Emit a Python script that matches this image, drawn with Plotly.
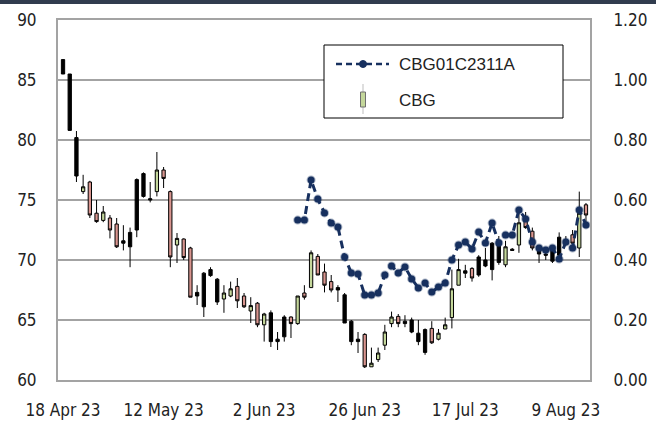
import plotly.graph_objects as go

dates = [
    "2023-04-18","2023-04-19","2023-04-20","2023-04-21","2023-04-24","2023-04-25","2023-04-26","2023-04-27","2023-04-28",
    "2023-05-02","2023-05-03","2023-05-08","2023-05-09","2023-05-10","2023-05-11","2023-05-12",
    "2023-05-15","2023-05-16","2023-05-17","2023-05-18","2023-05-19","2023-05-22","2023-05-23","2023-05-24","2023-05-25","2023-05-26",
    "2023-05-29","2023-05-30","2023-05-31","2023-06-01","2023-06-02","2023-06-06","2023-06-07","2023-06-08","2023-06-09",
    "2023-06-12","2023-06-13","2023-06-14","2023-06-15","2023-06-16","2023-06-19","2023-06-20","2023-06-21","2023-06-22","2023-06-23",
    "2023-06-26","2023-06-27","2023-06-28","2023-06-29","2023-06-30","2023-07-03","2023-07-04","2023-07-05","2023-07-06","2023-07-07",
    "2023-07-10","2023-07-11","2023-07-12","2023-07-13","2023-07-14","2023-07-17","2023-07-18","2023-07-19","2023-07-20","2023-07-21",
    "2023-07-24","2023-07-25","2023-07-26","2023-07-27","2023-07-31","2023-08-02","2023-08-03","2023-08-04","2023-08-07","2023-08-08",
    "2023-08-09","2023-08-10","2023-08-11","2023-08-15",
]

# candle colour class: K = black, G = green (up), P = pink (down)
kind = list("KKKGPPGPPKKKKKGPPGPPKKKKGGPPGPGKKKPGPGPPPKKKKPGGGGPKKKKPGGGGKPKKKKGKGPPKKKKKPGP")
open_ = [86.7,85.5,80.2,75.7,76.5,73.9,73.3,73.5,73.0,71.6,72.3,72.5,75.3,75.0,75.7,77.5,75.7,71.25,71.75,71.0,
         67.3,68.9,68.7,68.4,66.75,67.0,67.8,67.0,65.75,66.4,64.6,65.6,63.4,63.6,65.25,64.7,67.25,67.7,70.3,69.0,
         68.2,67.7,67.1,64.9,63.4,63.8,61.1,61.7,62.9,64.7,65.3,64.9,65.0,63.9,64.2,64.3,63.4,64.25,65.2,67.9,
         69.1,69.3,68.75,69.5,69.2,69.8,69.6,70.9,71.25,73.3,72.4,71.0,70.5,70.8,70.4,71.5,72.1,71.0,74.6]
high  = [86.7,85.5,80.75,77.1,76.6,75.0,74.5,73.75,73.5,72.9,72.7,76.8,77.3,76.5,79.0,77.75,75.8,72.25,71.8,71.1,
         67.9,69.0,69.4,68.5,67.9,68.2,68.5,67.25,66.9,66.5,65.6,65.8,64.0,65.4,65.3,67.0,67.9,70.8,70.5,69.7,
         68.75,67.9,67.25,65.0,64.0,63.9,62.7,62.7,64.6,65.7,65.5,65.4,65.2,65.0,64.3,64.9,64.25,65.2,69.2,70.1,
         69.6,69.4,70.4,71.0,71.5,72.0,71.6,71.0,74.0,74.0,72.7,71.25,71.0,71.0,72.3,72.0,72.5,75.7,74.75]
low   = [85.5,80.8,76.5,75.5,73.5,73.1,73.15,71.8,71.0,70.8,69.4,71.9,75.2,74.8,75.3,76.0,69.4,69.75,70.0,66.9,
         66.25,65.25,68.6,66.25,65.6,66.9,66.0,66.0,64.75,64.4,63.2,62.75,62.5,63.2,63.5,64.6,66.7,67.7,68.75,67.3,
         67.3,66.5,64.75,62.9,62.25,61.0,61.1,61.5,62.5,64.4,64.4,64.4,63.9,62.9,62.1,63.0,63.3,64.25,64.3,67.9,
         68.5,68.2,68.6,69.4,68.3,69.6,69.4,70.8,70.6,72.6,70.8,69.75,70.0,69.75,70.25,71.2,71.0,70.25,72.75]
close = [85.5,80.8,77.0,76.1,73.75,73.2,74.0,72.5,71.1,71.4,71.1,76.7,77.2,75.1,77.5,76.8,70.25,71.8,70.2,66.9,
         67.0,66.1,69.2,66.5,67.25,67.6,66.6,66.1,66.2,64.6,65.5,63.2,63.2,65.25,64.7,67.0,66.9,70.6,68.75,67.9,
         67.5,67.5,64.75,63.2,63.2,61.1,61.4,62.25,64.0,65.25,64.7,64.7,64.0,63.2,62.3,63.1,63.9,64.6,67.6,69.2,
         68.9,68.5,70.25,70.0,71.4,71.5,71.1,70.8,73.1,72.7,71.0,70.5,70.4,69.9,71.9,71.7,71.4,73.9,73.75]

# warrant price (right axis), from 6 Jun 23 onwards
warrant_dates = dates[35:]
warrant = [0.533,0.533,0.667,0.603,0.557,0.523,0.51,0.41,0.357,0.353,0.283,0.283,0.29,0.35,0.38,0.357,0.377,0.337,
           0.307,0.323,0.293,0.31,0.323,0.40,0.45,0.46,0.437,0.493,0.457,0.523,0.457,0.483,0.483,0.567,0.537,0.46,
           0.44,0.433,0.44,0.403,0.46,0.44,0.567,0.517]

series_names = ["CBG01C2311A", "CBG"]
tick_idx = [0, 15, 30, 45, 60, 75]
tick_text = ["18 Apr 23", "12 May 23", "2 Jun 23", "26 Jun 23", "17 Jul 23", "9 Aug 23"]

GREEN = "#c4d79b"
PINK = "#d9958f"
NAVY = "#17305f"
GRID = "#a3a3a3"
AXFONT = "DejaVu Sans Condensed, Liberation Sans Narrow, sans-serif"
LGFONT = "Liberation Sans, Arial, sans-serif"

def subset(k):
    idx = [i for i, c in enumerate(kind) if c == k]
    return ([dates[i] for i in idx], [open_[i] for i in idx], [high[i] for i in idx],
            [low[i] for i in idx], [close[i] for i in idx])

fig = go.Figure()

for k, fill in [("K", "#000000"), ("P", PINK), ("G", GREEN)]:
    x, o, h, l, c = subset(k)
    fig.add_trace(go.Candlestick(
        x=x, open=o, high=h, low=l, close=c, name=series_names[1],
        increasing=dict(fillcolor=fill, line=dict(color="#000000", width=1)),
        decreasing=dict(fillcolor=fill, line=dict(color="#000000", width=1)),
        whiskerwidth=0, showlegend=False,
    ))

fig.add_trace(go.Scatter(
    x=warrant_dates, y=warrant, name=series_names[0], yaxis="y2", mode="lines+markers",
    line=dict(color=NAVY, width=3, dash="8px,5px"),
    marker=dict(color=NAVY, size=7, line=dict(color="rgba(23,48,95,0.35)", width=2)),
    showlegend=False,
))

# manual legend (paper coordinates of the plot area)
def px(x):
    return (x - 58) / 532

def py(y):
    return (380 - y) / 360

shapes = [
    dict(type="rect", xref="paper", yref="paper", x0=px(0), x1=px(656), y0=py(4), y1=py(0),
         fillcolor="#313c4e", line=dict(width=0), layer="below"),
    dict(type="rect", xref="paper", yref="paper", x0=px(324), x1=px(563), y0=py(118), y1=py(45),
         fillcolor="white", line=dict(color="#000000", width=1), layer="above"),
    dict(type="line", xref="paper", yref="paper", x0=px(336), x1=px(389), y0=py(64), y1=py(64),
         line=dict(color=NAVY, width=2.5, dash="6px,4px"), layer="above"),
    dict(type="circle", xref="paper", yref="paper", x0=px(359.5), x1=px(366.5), y0=py(67.5), y1=py(60.5),
         fillcolor=NAVY, line=dict(color=NAVY, width=1), layer="above"),
    dict(type="line", xref="paper", yref="paper", x0=px(363), x1=px(363), y0=py(84), y1=py(114),
         line=dict(color="#bdbdbd", width=1), layer="above"),
    dict(type="rect", xref="paper", yref="paper", x0=px(360.5), x1=px(365.5), y0=py(107), y1=py(92),
         fillcolor=GREEN, line=dict(color="#707070", width=1), layer="above"),
]
annotations = [
    dict(xref="paper", yref="paper", x=px(397), y=py(64), text=series_names[0], showarrow=False,
         xanchor="left", yanchor="middle", font=dict(family=LGFONT, size=17, color="#222222")),
    dict(xref="paper", yref="paper", x=px(397), y=py(101), text=series_names[1], showarrow=False,
         xanchor="left", yanchor="middle", font=dict(family=LGFONT, size=17, color="#222222")),
]

fig.update_layout(
    width=656, height=423,
    margin=dict(l=58, r=66, t=20, b=43, autoexpand=False),
    paper_bgcolor="white", plot_bgcolor="white",
    font=dict(family=AXFONT, size=17, color="#222222"),
    boxmode="overlay", boxgap=0.3,
    showlegend=False,
    xaxis=dict(type="category", categoryorder="array", categoryarray=dates,
               range=[-0.75, 78.6], rangeslider=dict(visible=False), automargin=False,
               tickvals=[dates[i] for i in tick_idx], ticktext=tick_text,
               showgrid=False, showline=True, mirror=True, linecolor=GRID, linewidth=2,
               ticks="", ticklabelstandoff=14, tickangle=0),
    yaxis=dict(range=[60, 90], dtick=5, showgrid=True, gridcolor=GRID, gridwidth=2,
               showline=True, linecolor=GRID, linewidth=2, zeroline=False, automargin=False,
               ticks="", ticklabelstandoff=16),
    yaxis2=dict(range=[0, 1.2], dtick=0.2, tickformat=".2f", overlaying="y", side="right",
                showgrid=False, showline=True, linecolor=GRID, linewidth=2, zeroline=False,
                automargin=False, ticks="", ticklabelstandoff=18),
    shapes=shapes,
    annotations=annotations,
)

fig.write_html("out.html", config={"displayModeBar": False},
               post_script="document.body.style.margin='0px';document.body.style.overflow='hidden';")
